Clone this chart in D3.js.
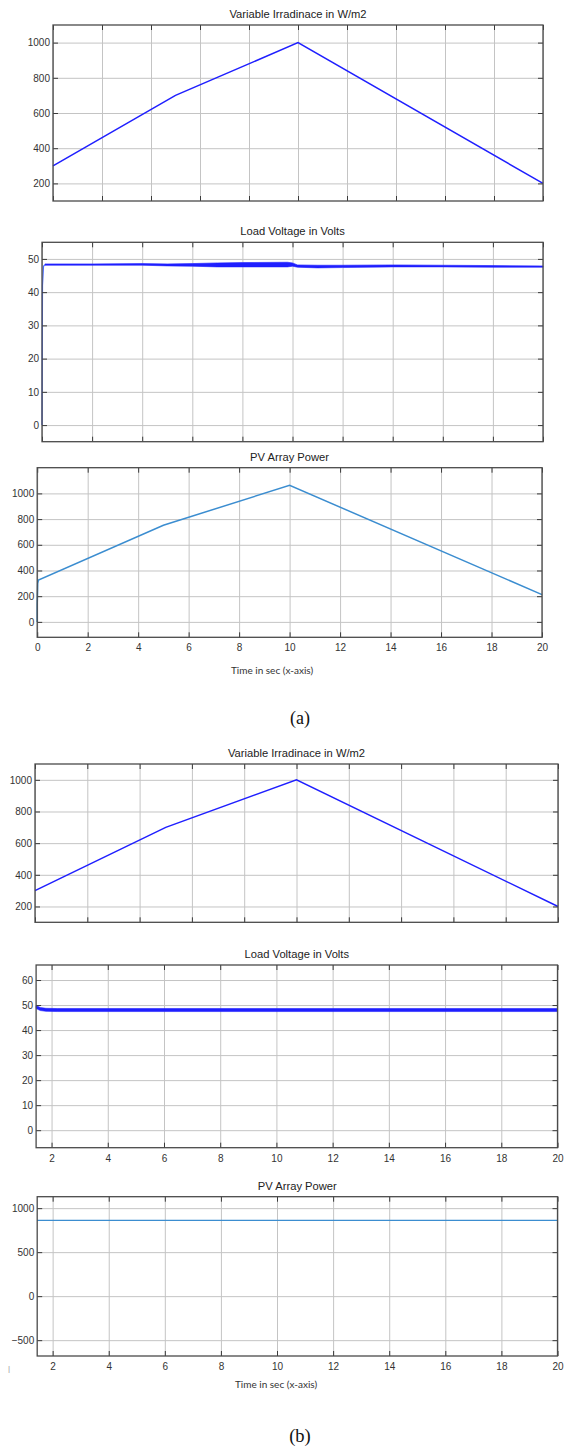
<!DOCTYPE html>
<html>
<head>
<meta charset="utf-8">
<script src="https://cdn.jsdelivr.net/npm/d3@7"></script>
<style>
    body { margin: 0; background: #fff; }
    #chart text { font-family: "Liberation Sans", Arial, sans-serif; }
    #chart .xlabel { font-family: Lato, "Open Sans", sans-serif; }
    #chart .caption { font-family: "Liberation Serif", "DejaVu Serif", serif; }
</style>
</head>
<body>
<div id="chart"></div>
<script>

// ---- values ----

// irradiance profile (same in a and b)
var irrTime = [0, 5, 10, 20];
var irrValue = [300, 700, 1000, 200];

// (a) load voltage: start-up rise, then a noisy band (upper / lower envelope)
var voltStartTime = [0, 0.02, 0.06, 0.12];
var voltStartValue = [0, 42, 47.8, 48.3];
var voltTimeA = [0.12, 2, 4, 5, 6, 7, 8, 9.8, 10, 10.2, 11, 12, 14, 16, 18, 20];
var voltHighA = [48.5, 48.5, 48.6, 48.5, 48.6, 48.8, 48.9, 49.0, 48.8, 48.2, 48.1, 48.1, 48.2, 48.1, 48.0, 47.9];
var voltLowA = [48.1, 48.1, 48.1, 47.9, 47.8, 47.6, 47.6, 47.6, 47.8, 47.5, 47.3, 47.4, 47.6, 47.6, 47.5, 47.5];

// (a) PV array power
var powerTimeA = [0, 0, 0.02, 0.05, 5, 10, 20];
var powerValueA = [0, 130, 300, 325, 752, 1063, 212];

// (b) load voltage band
var voltTimeB = [1.45, 1.6, 1.8, 2.2, 20];
var voltHighB = [49.8, 49.0, 48.7, 48.6, 48.6];
var voltLowB = [48.6, 47.8, 47.5, 47.4, 47.4];

// (b) PV array power
var powerTimeB = [1.45, 20];
var powerValueB = [862, 862];

// ticks
var xTicksA = [0, 2, 4, 6, 8, 10, 12, 14, 16, 18, 20];
var xTicksB = [2, 4, 6, 8, 10, 12, 14, 16, 18, 20];
var irrTicks = [200, 400, 600, 800, 1000];
var voltTicksA = [0, 10, 20, 30, 40, 50];
var voltTicksB = [0, 10, 20, 30, 40, 50, 60];
var powerTicksA = [0, 200, 400, 600, 800, 1000];
var powerTicksB = [-500, 0, 500, 1000];

var blue = "#1f1fff";
var lightBlue = "#3b8dd0";
var gridColor = "#c4c4c4";

var svg = d3.select("#chart").append("svg")
    .attr("width", 568)
    .attr("height", 1449);

// one MATLAB style subplot
function drawPanel(p) {
    var x = d3.scaleLinear().domain(p.xDomain).range([p.left, p.right]);
    var y = d3.scaleLinear().domain(p.yDomain).range([p.bottom, p.top]);
    var w = p.right - p.left, h = p.bottom - p.top;

    var g = svg.append("g");

    // grid
    g.append("g")
        .attr("class", "grid")
        .attr("transform", "translate(0," + p.bottom + ")")
        .call(d3.axisBottom(x).tickValues(p.xTicks).tickSize(-h).tickFormat(""));
    g.append("g")
        .attr("class", "grid")
        .attr("transform", "translate(" + p.left + ",0)")
        .call(d3.axisLeft(y).tickValues(p.yTicks).tickSize(-w).tickFormat(""));
    g.selectAll(".grid line").attr("stroke", gridColor);

    // series
    (p.bands || []).forEach(function(b) {
        var pts = b.time.map(function(t, i) { return {t: t, hi: b.high[i], lo: b.low[i]}; });
        g.append("path")
            .datum(pts)
            .attr("fill", b.color)
            .attr("stroke", b.color)
            .attr("stroke-width", 0.6)
            .attr("d", d3.area()
                .x(function(d) { return x(d.t); })
                .y0(function(d) { return y(d.lo); })
                .y1(function(d) { return y(d.hi); }));
    });
    (p.lines || []).forEach(function(l) {
        var pts = l.time.map(function(t, i) { return [t, l.value[i]]; });
        g.append("path")
            .datum(pts)
            .attr("fill", "none")
            .attr("stroke", l.color)
            .attr("stroke-width", l.width || 1.5)
            .attr("d", d3.line()
                .x(function(d) { return x(d[0]); })
                .y(function(d) { return y(d[1]); }));
    });

    // inward ticks on all four sides
    var ax = g.append("g").attr("class", "ax");
    ax.append("g")
        .attr("transform", "translate(0," + p.bottom + ")")
        .call(d3.axisBottom(x).tickValues(p.xTicks).tickSize(-5).tickPadding(7)
            .tickFormat(p.xLabels ? d3.format("d") : ""));
    ax.append("g")
        .attr("transform", "translate(0," + p.top + ")")
        .call(d3.axisTop(x).tickValues(p.xTicks).tickSize(-5).tickFormat(""));
    ax.append("g")
        .attr("transform", "translate(" + p.left + ",0)")
        .call(d3.axisLeft(y).tickValues(p.yTicks).tickSize(-5).tickPadding(3).tickFormat(d3.format("d")));
    ax.append("g")
        .attr("transform", "translate(" + p.right + ",0)")
        .call(d3.axisRight(y).tickValues(p.yTicks).tickSize(-5).tickFormat(""));

    g.selectAll(".domain").remove();
    ax.selectAll(".tick line").attr("stroke", "#3a3a3a");
    ax.selectAll(".tick text")
        .attr("fill", "#333")
        .attr("font-size", 10);

    // box
    g.append("rect")
        .attr("x", p.left).attr("y", p.top)
        .attr("width", w).attr("height", h)
        .attr("fill", "none")
        .attr("stroke", "#4a4a4a")
        .attr("stroke-width", 1.3);

    // title
    g.append("text")
        .attr("x", (p.left + p.right) / 2)
        .attr("y", p.top - 7)
        .attr("text-anchor", "middle")
        .attr("font-size", 11.2)
        .attr("fill", "#222")
        .text(p.title);

    if (p.xTitle) {
        g.append("text")
            .attr("class", "xlabel")
            .attr("x", p.xTitleX)
            .attr("y", p.xTitleY)
            .attr("text-anchor", "middle")
            .attr("font-size", 10)
            .attr("fill", "#333")
            .text(p.xTitle);
    }
}

// ---- (a) ----
drawPanel({
    title: "Variable Irradinace in W/m2",
    left: 53, right: 543, top: 25, bottom: 201,
    xDomain: [0, 20], yDomain: [100, 1100],
    xTicks: xTicksA, yTicks: irrTicks,
    lines: [{time: irrTime, value: irrValue, color: blue}]
});
drawPanel({
    title: "Load Voltage in Volts",
    left: 42, right: 543, top: 242.3, bottom: 441.7,
    xDomain: [0, 20], yDomain: [-5, 55],
    xTicks: xTicksA, yTicks: voltTicksA,
    bands: [{time: voltTimeA, high: voltHighA, low: voltLowA, color: blue}],
    lines: [{time: voltStartTime, value: voltStartValue, color: "#4a6cff", width: 1.2}]
});
drawPanel({
    title: "PV Array Power",
    left: 37.2, right: 542, top: 467.7, bottom: 637.3,
    xDomain: [0, 20], yDomain: [-120, 1200],
    xTicks: xTicksA, yTicks: powerTicksA, xLabels: true,
    xTitle: "Time in sec (x-axis)", xTitleX: 272, xTitleY: 674,
    lines: [{time: powerTimeA, value: powerValueA, color: lightBlue}]
});

svg.append("text")
    .attr("class", "caption")
    .attr("x", 300).attr("y", 724)
    .attr("text-anchor", "middle")
    .attr("font-size", 18)
    .attr("fill", "#111")
    .text("(a)");

// ---- (b) ----
drawPanel({
    title: "Variable Irradinace in W/m2",
    left: 35, right: 558, top: 764, bottom: 922.3,
    xDomain: [0, 20], yDomain: [100, 1100],
    xTicks: xTicksA, yTicks: irrTicks,
    lines: [{time: irrTime, value: irrValue, color: blue}]
});
drawPanel({
    title: "Load Voltage in Volts",
    left: 36.1, right: 557.5, top: 965, bottom: 1147.7,
    xDomain: [1.45, 20], yDomain: [-7, 66],
    xTicks: xTicksB, yTicks: voltTicksB, xLabels: true,
    bands: [{time: voltTimeB, high: voltHighB, low: voltLowB, color: blue}]
});
drawPanel({
    title: "PV Array Power",
    left: 37.2, right: 557.5, top: 1196.7, bottom: 1356,
    xDomain: [1.45, 20], yDomain: [-680, 1130],
    xTicks: xTicksB, yTicks: powerTicksB, xLabels: true,
    xTitle: "Time in sec (x-axis)", xTitleX: 276, xTitleY: 1387.5,
    lines: [{time: powerTimeB, value: powerValueB, color: lightBlue, width: 1.3}]
});

// stray mark left of the last axis
svg.append("text")
    .attr("x", 9).attr("y", 1371)
    .attr("text-anchor", "middle")
    .attr("font-size", 8)
    .attr("fill", "#999")
    .text("|");

svg.append("text")
    .attr("class", "caption")
    .attr("x", 300).attr("y", 1442)
    .attr("text-anchor", "middle")
    .attr("font-size", 18.5)
    .attr("fill", "#111")
    .text("(b)");

</script>
</body>
</html>
